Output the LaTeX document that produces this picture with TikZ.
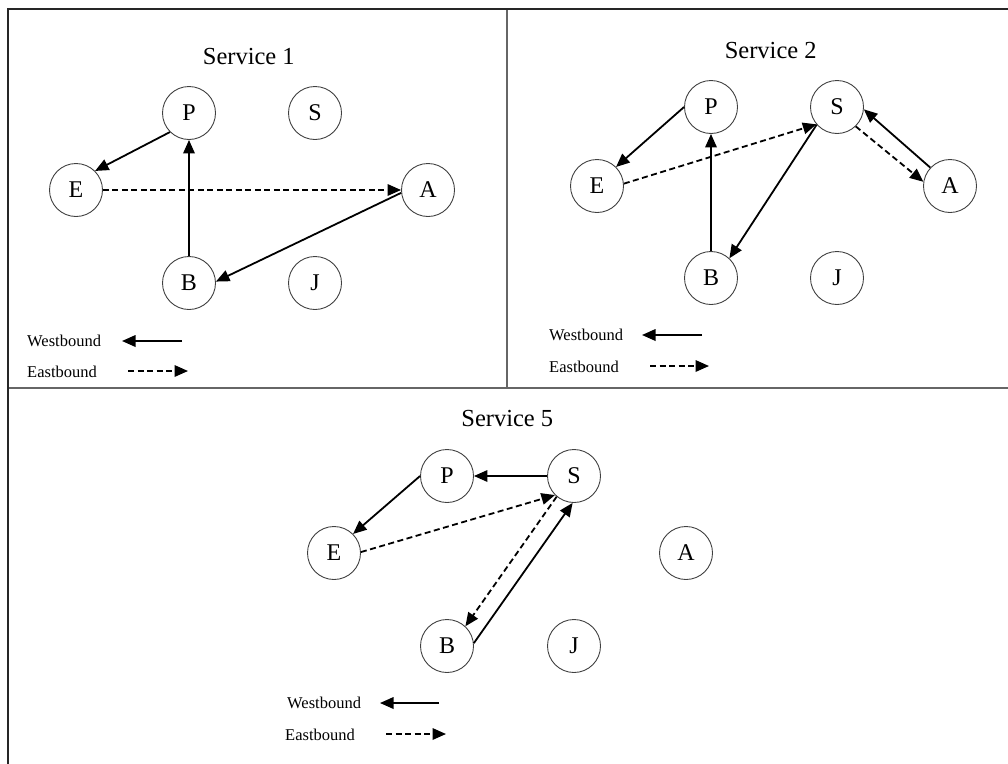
\documentclass[tikz,border=0pt]{standalone}
\usepackage{fontspec}
\setmainfont{Liberation Serif}
\usetikzlibrary{arrows.meta}
\begin{document}
\begin{tikzpicture}[x=1pt,y=-1pt,
  stop/.style={circle,draw=black!75,line width=0.9pt,minimum size=53pt,inner sep=0pt,
    font=\fontsize{24}{24}\selectfont,text height=15.9pt,text depth=0pt},
  title/.style={inner sep=0pt,font=\fontsize{24.5}{25}\selectfont},
  legtext/.style={anchor=west,inner sep=0pt,font=\fontsize{16.5}{17}\selectfont},
  wb/.style={line width=1.8pt,-{Triangle[length=13.5pt,width=11.5pt]}},
  eb/.style={wb,dash pattern=on 6pt off 3.5pt},
  frame/.style={line width=2pt,draw=black!85},
  divider/.style={line width=1.6pt,draw=black!60}]

\useasboundingbox (0,0) rectangle (1008,763);

% panel frame and dividers
\draw[divider] (8,388) -- (1010,388);
\draw[divider] (507,9) -- (507,388);
\draw[frame] (1010,9) -- (8,9) -- (8,765);

% ---------- Service 1 ----------
\node[title] (t1) at (248.8,56.7) {Service 1};
\node[stop] (P1) at (189,113) {P};
\node[stop] (S1) at (315,113) {S};
\node[stop] (E1) at (76,190) {E};
\node[stop] (A1) at (428,190) {A};
\node[stop] (B1) at (189,283) {B};
\node[stop] (J1) at (315,283) {J};

\draw[wb] (P1.225) -- (E1.45);
\draw[wb] (B1.90) -- (P1.270);
\draw[eb] (E1.0) -- (A1.180);
\draw[wb] (A1.186) -- (B1.3);

\node[legtext] (lw1) at (27,341) {Westbound};
\node[legtext] (le1) at (27,371.5) {Eastbound};
\coordinate (lw1a) at (182,341);
\coordinate (lw1b) at (122,341);
\coordinate (le1a) at (128,371);
\coordinate (le1b) at (188,371);
\draw[wb] (lw1a) -- (lw1b);
\draw[eb] (le1a) -- (le1b);

% ---------- Service 2 ----------
\node[title] (t2) at (770.7,50.7) {Service 2};
\node[stop] (P2) at (711,107) {P};
\node[stop] (S2) at (837,107) {S};
\node[stop] (E2) at (597,186) {E};
\node[stop] (A2) at (950,186) {A};
\node[stop] (B2) at (711,278) {B};
\node[stop] (J2) at (837,278) {J};

\draw[wb] (P2.180) -- (E2.45);
\draw[wb] (B2.90) -- (P2.270);
\draw[eb] (E2.5) -- (S2.220);
\draw[wb] (S2.221) -- (B2.47);
\draw[eb] (S2.-46) -- (A2.171);
\draw[wb] (A2.137) -- (S2.-5);

\node[legtext] (lw2) at (549,335) {Westbound};
\node[legtext] (le2) at (549,366.5) {Eastbound};
\coordinate (lw2a) at (702,335);
\coordinate (lw2b) at (642,335);
\coordinate (le2a) at (650,366);
\coordinate (le2b) at (709,366);
\draw[wb] (lw2a) -- (lw2b);
\draw[eb] (le2a) -- (le2b);

% ---------- Service 5 ----------
\node[title] (t5) at (507.3,419) {Service 5};
\node[stop] (P3) at (447,476) {P};
\node[stop] (S3) at (574,476) {S};
\node[stop] (E3) at (334,553) {E};
\node[stop] (A3) at (686,553) {A};
\node[stop] (B3) at (447,646) {B};
\node[stop] (J3) at (574,646) {J};

\draw[wb] (S3.180) -- (P3.0);
\draw[wb] (P3.180) -- (E3.45);
\draw[eb] (E3.2) -- (S3.225);
\draw[eb] (S3.230) -- (B3.47);
\draw[wb] (B3.6) -- (S3.267);

\node[legtext] (lw3) at (287,703) {Westbound};
\node[legtext] (le3) at (285,734.5) {Eastbound};
\coordinate (lw3a) at (439,703);
\coordinate (lw3b) at (380,703);
\coordinate (le3a) at (386,734);
\coordinate (le3b) at (446,734);
\draw[wb] (lw3a) -- (lw3b);
\draw[eb] (le3a) -- (le3b);

\end{tikzpicture}
\end{document}
